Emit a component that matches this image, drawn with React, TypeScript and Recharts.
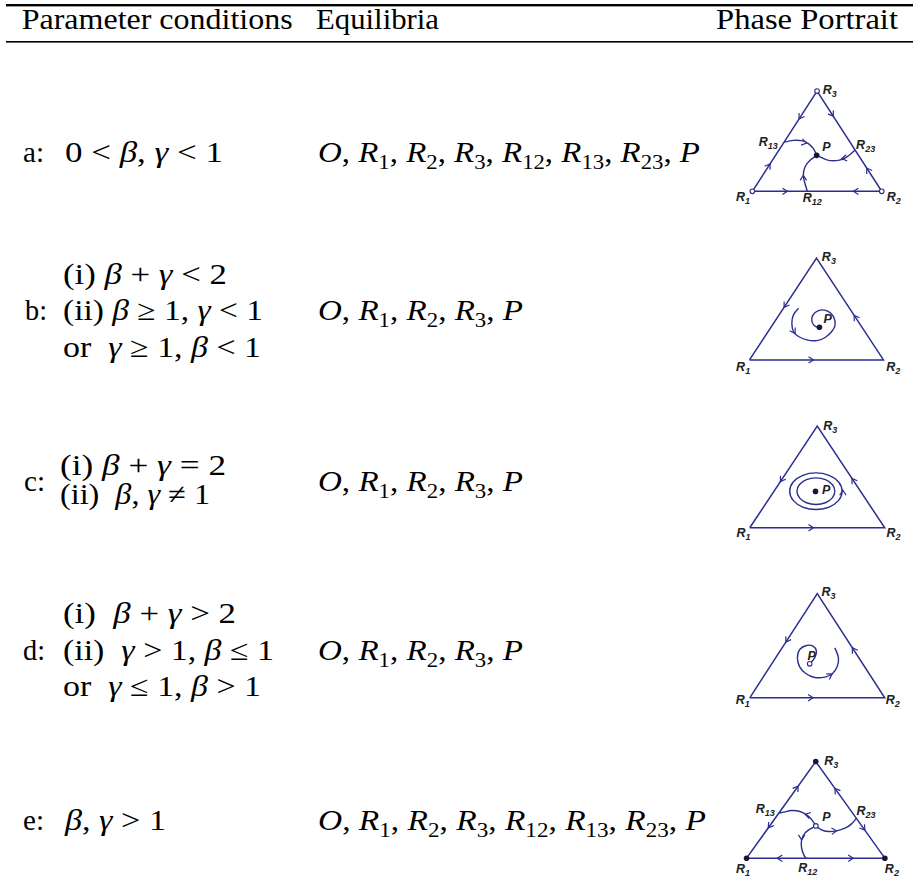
import React from 'react';
import { ComposedChart, Line, Scatter, XAxis, YAxis } from 'recharts';

// table text (*..* = italic, _{..} = subscript)
const headers = ['Parameter conditions', 'Equilibria', 'Phase Portrait'];
const rowLetters = ['a:', 'b:', 'c:', 'd:', 'e:'];
const conditionsA = ['0 < *β*, *γ* < 1'];
const conditionsB = ['(i) *β* + *γ* < 2', '(ii) *β* ≥ 1, *γ* < 1', 'or  *γ* ≥ 1, *β* < 1'];
const conditionsC = ['(i) *β* + *γ* = 2', '(ii)  *β*, *γ* ≠ 1'];
const conditionsD = ['(i)  *β* + *γ* > 2', '(ii)  *γ* > 1, *β* ≤ 1', 'or  *γ* ≤ 1, *β* > 1'];
const conditionsE = ['*β*, *γ* > 1'];
const equilibriaFull = '*O*, *R*_{1}, *R*_{2}, *R*_{3}, *R*_{12}, *R*_{13}, *R*_{23}, *P*';
const equilibriaShort = '*O*, *R*_{1}, *R*_{2}, *R*_{3}, *P*';

type Pt = { x: number; y: number };
type Arrow = { x: number; y: number; dx: number; dy: number };
type Lbl = { x: number; y: number; t: string; s?: string };

const triangle: Pt[] = [
  { x: 0, y: 0 },
  { x: 1, y: 0 },
  { x: 0.5, y: 1 },
  { x: 0, y: 0 },
];
const vertices: Pt[] = [
  { x: 0, y: 0 },
  { x: 1, y: 0 },
  { x: 0.5, y: 1 },
];

// row a
const aToR13: Pt[] = [
  { x: 0.245, y: 0.49 }, { x: 0.317, y: 0.508 }, { x: 0.381, y: 0.505 },
  { x: 0.433, y: 0.475 }, { x: 0.472, y: 0.425 }, { x: 0.497, y: 0.359 },
];
const aToR23: Pt[] = [
  { x: 0.794, y: 0.412 }, { x: 0.729, y: 0.341 }, { x: 0.665, y: 0.309 },
  { x: 0.588, y: 0.309 }, { x: 0.536, y: 0.335 }, { x: 0.497, y: 0.359 },
];
const aToR12: Pt[] = [
  { x: 0.425, y: 0 }, { x: 0.407, y: 0.076 }, { x: 0.394, y: 0.159 },
  { x: 0.407, y: 0.243 }, { x: 0.446, y: 0.309 }, { x: 0.497, y: 0.359 },
];
const aArrows: Arrow[] = [
  { x: 0.361, y: 0.722, dx: -0.5, dy: -1 },
  { x: 0.137, y: 0.274, dx: 0.5, dy: 1 },
  { x: 0.626, y: 0.748, dx: 0.5, dy: -1 },
  { x: 0.884, y: 0.232, dx: -0.5, dy: 1 },
  { x: 0.271, y: 0, dx: 1, dy: 0 },
  { x: 0.781, y: 0, dx: -1, dy: 0 },
  { x: 0.42, y: 0.482, dx: 0.94, dy: -0.25 },
  { x: 0.691, y: 0.326, dx: -1, dy: -0.2 },
  { x: 0.394, y: 0.159, dx: 0, dy: 1 },
];
const aStable: Pt[] = [{ x: 0.497, y: 0.359 }];
const aLabels: Lbl[] = [
  { x: 0.544, y: 0.973, t: 'R', s: '3' },
  { x: -0.126, y: -0.096, t: 'R', s: '1' },
  { x: 1.039, y: -0.096, t: 'R', s: '2' },
  { x: 0.049, y: 0.449, t: 'R', s: '13' },
  { x: 0.802, y: 0.425, t: 'R', s: '23' },
  { x: 0.389, y: -0.106, t: 'R', s: '12' },
  { x: 0.541, y: 0.402, t: 'P' },
];

// row b
const bSpiral: Pt[] = [
  { x: 0.366, y: 0.508 }, { x: 0.328, y: 0.443 }, { x: 0.316, y: 0.361 },
  { x: 0.328, y: 0.279 }, { x: 0.366, y: 0.23 }, { x: 0.428, y: 0.197 },
  { x: 0.502, y: 0.19 }, { x: 0.565, y: 0.22 }, { x: 0.614, y: 0.279 },
  { x: 0.639, y: 0.344 }, { x: 0.627, y: 0.426 }, { x: 0.59, y: 0.475 },
  { x: 0.54, y: 0.492 }, { x: 0.49, y: 0.466 }, { x: 0.465, y: 0.41 },
  { x: 0.478, y: 0.344 }, { x: 0.515, y: 0.318 },
];
const bArrows: Arrow[] = [
  { x: 0.258, y: 0.516, dx: -0.5, dy: -1 },
  { x: 0.781, y: 0.438, dx: -0.5, dy: 1 },
  { x: 0.478, y: 0, dx: 1, dy: 0 },
  { x: 0.34, y: 0.26, dx: 0.4, dy: -0.9 },
];
const bStable: Pt[] = [{ x: 0.522, y: 0.321 }];
const bLabels: Lbl[] = [
  { x: 0.54, y: 0.977, t: 'R', s: '3' },
  { x: -0.1, y: -0.105, t: 'R', s: '1' },
  { x: 1.02, y: -0.105, t: 'R', s: '2' },
  { x: 0.552, y: 0.361, t: 'P' },
];

// row c
const cOuter: Pt[] = [
  { x: 0.693, y: 0.36 }, { x: 0.666, y: 0.455 }, { x: 0.592, y: 0.524 },
  { x: 0.49, y: 0.549 }, { x: 0.388, y: 0.524 }, { x: 0.314, y: 0.455 },
  { x: 0.287, y: 0.36 }, { x: 0.314, y: 0.265 }, { x: 0.388, y: 0.196 },
  { x: 0.49, y: 0.171 }, { x: 0.592, y: 0.196 }, { x: 0.666, y: 0.265 },
];
const cInner: Pt[] = [
  { x: 0.637, y: 0.36 }, { x: 0.617, y: 0.429 }, { x: 0.564, y: 0.479 },
  { x: 0.49, y: 0.497 }, { x: 0.417, y: 0.479 }, { x: 0.363, y: 0.429 },
  { x: 0.343, y: 0.36 }, { x: 0.363, y: 0.292 }, { x: 0.417, y: 0.241 },
  { x: 0.49, y: 0.223 }, { x: 0.564, y: 0.241 }, { x: 0.617, y: 0.292 },
];
const cArrows: Arrow[] = [
  { x: 0.227, y: 0.454, dx: -0.5, dy: -1 },
  { x: 0.757, y: 0.486, dx: -0.5, dy: 1 },
  { x: 0.472, y: 0, dx: 1, dy: 0 },
  { x: 0.69, y: 0.37, dx: 0, dy: 1 },
];
const cStable: Pt[] = [{ x: 0.487, y: 0.358 }];
const cLabels: Lbl[] = [
  { x: 0.544, y: 0.965, t: 'R', s: '3' },
  { x: -0.099, y: -0.093, t: 'R', s: '1' },
  { x: 1.013, y: -0.093, t: 'R', s: '2' },
  { x: 0.536, y: 0.335, t: 'P' },
];

// row d
const dSpiral: Pt[] = [
  { x: 0.444, y: 0.326 }, { x: 0.481, y: 0.383 }, { x: 0.494, y: 0.447 },
  { x: 0.469, y: 0.495 }, { x: 0.42, y: 0.502 }, { x: 0.37, y: 0.463 },
  { x: 0.353, y: 0.383 }, { x: 0.37, y: 0.297 }, { x: 0.415, y: 0.233 },
  { x: 0.481, y: 0.195 }, { x: 0.556, y: 0.198 }, { x: 0.612, y: 0.23 },
  { x: 0.647, y: 0.297 }, { x: 0.657, y: 0.383 }, { x: 0.63, y: 0.479 },
];
const dArrows: Arrow[] = [
  { x: 0.267, y: 0.534, dx: -0.5, dy: -1 },
  { x: 0.76, y: 0.48, dx: -0.5, dy: 1 },
  { x: 0.469, y: 0, dx: 1, dy: 0 },
  { x: 0.61, y: 0.227, dx: 0.8, dy: 0.6 },
];
const dUnstable: Pt[] = [{ x: 0.444, y: 0.326 }];
const dLabels: Lbl[] = [
  { x: 0.531, y: 0.974, t: 'R', s: '3' },
  { x: -0.104, y: -0.06, t: 'R', s: '1' },
  { x: 1.007, y: -0.06, t: 'R', s: '2' },
  { x: 0.427, y: 0.361, t: 'P' },
];

// row e
const eToR13: Pt[] = [
  { x: 0.501, y: 0.334 }, { x: 0.472, y: 0.397 }, { x: 0.434, y: 0.448 },
  { x: 0.386, y: 0.483 }, { x: 0.325, y: 0.493 }, { x: 0.277, y: 0.479 },
  { x: 0.234, y: 0.468 },
];
const eToR23: Pt[] = [
  { x: 0.501, y: 0.334 }, { x: 0.542, y: 0.293 }, { x: 0.59, y: 0.276 },
  { x: 0.651, y: 0.283 }, { x: 0.711, y: 0.31 }, { x: 0.759, y: 0.355 },
  { x: 0.794, y: 0.412 },
];
const eToR12: Pt[] = [
  { x: 0.501, y: 0.334 }, { x: 0.458, y: 0.3 }, { x: 0.422, y: 0.259 },
  { x: 0.398, y: 0.19 }, { x: 0.398, y: 0.103 }, { x: 0.414, y: 0.034 },
  { x: 0.429, y: 0 },
];
const eArrows: Arrow[] = [
  { x: 0.373, y: 0.746, dx: 0.5, dy: 1 },
  { x: 0.157, y: 0.314, dx: -0.5, dy: -1 },
  { x: 0.639, y: 0.722, dx: -0.5, dy: 1 },
  { x: 0.855, y: 0.29, dx: 0.5, dy: -1 },
  { x: 0.222, y: 0, dx: -1, dy: 0 },
  { x: 0.771, y: 0, dx: 1, dy: 0 },
  { x: 0.424, y: 0.455, dx: -0.9, dy: 0.35 },
  { x: 0.651, y: 0.283, dx: 1, dy: 0.1 },
  { x: 0.398, y: 0.19, dx: 0, dy: -1 },
];
const eUnstable: Pt[] = [{ x: 0.501, y: 0.334 }];
const eLabels: Lbl[] = [
  { x: 0.561, y: 0.966, t: 'R', s: '3' },
  { x: -0.077, y: -0.155, t: 'R', s: '1' },
  { x: 1.0, y: -0.155, t: 'R', s: '2' },
  { x: 0.067, y: 0.472, t: 'R', s: '13' },
  { x: 0.795, y: 0.448, t: 'R', s: '23' },
  { x: 0.373, y: -0.148, t: 'R', s: '12' },
  { x: 0.547, y: 0.39, t: 'P' },
];

const INK = '#2b2e8e';
const DOT = '#15163a';
const X_DOM: [number, number] = [-0.25, 1.25];
const Y_DOM: [number, number] = [-0.2, 1.12];

type Box = { r1: number; r2: number; apex: number; base: number };

interface PortraitProps {
  box: Box;
  paths?: Pt[][];
  loops?: Pt[][];
  arrows: Arrow[];
  open?: Pt[];
  filled?: Pt[];
  labels: Lbl[];
}

const Portrait: React.FC<PortraitProps> = ({ box, paths = [], loops = [], arrows, open = [], filled = [], labels }) => {
  const triW = box.r2 - box.r1;
  const triH = box.base - box.apex;
  const w = triW * (X_DOM[1] - X_DOM[0]);
  const h = triH * (Y_DOM[1] - Y_DOM[0]);
  const left = box.r1 + X_DOM[0] * triW;
  const top = box.apex - (Y_DOM[1] - 1) * triH;

  const arrowShape = (p: any) => {
    const a = (Math.atan2(-p.payload.dy * triH, p.payload.dx * triW) * 180) / Math.PI;
    return (
      <path
        d="M -5 -3.2 L 0 0 L -5 3.2"
        transform={`translate(${p.cx},${p.cy}) rotate(${a})`}
        stroke={INK}
        strokeWidth={1.2}
        fill="none"
      />
    );
  };
  const openShape = (p: any) => <circle cx={p.cx} cy={p.cy} r={2.3} fill="#fff" stroke={INK} strokeWidth={1.1} />;
  const filledShape = (p: any) => <circle cx={p.cx} cy={p.cy} r={2.8} fill={DOT} />;
  const labelShape = (p: any) => (
    <text
      x={p.cx}
      y={p.cy}
      style={{ fontFamily: '"Liberation Sans", Arial, sans-serif', fontWeight: 'bold', fontStyle: 'italic', fontSize: 12.5 }}
      fill="#222"
    >
      {p.payload.t}
      {p.payload.s ? (
        <tspan style={{ fontSize: 9 }} dy={3}>
          {p.payload.s}
        </tspan>
      ) : null}
    </text>
  );

  return (
    <div style={{ position: 'absolute', left, top }}>
      <ComposedChart width={w} height={h} margin={{ top: 0, right: 0, bottom: 0, left: 0 }}>
        <XAxis type="number" dataKey="x" domain={X_DOM} hide />
        <YAxis type="number" dataKey="y" domain={Y_DOM} hide width={0} />
        <Line data={triangle} dataKey="y" type="linear" stroke={INK} strokeWidth={1.5} dot={false} activeDot={false} isAnimationActive={false} />
        {paths.map((d, i) => (
          <Line key={'p' + i} data={d} dataKey="y" type="natural" stroke={INK} strokeWidth={1.4} dot={false} activeDot={false} isAnimationActive={false} />
        ))}
        {loops.map((d, i) => (
          <Line key={'l' + i} data={d} dataKey="y" type="basisClosed" stroke={INK} strokeWidth={1.4} dot={false} activeDot={false} isAnimationActive={false} />
        ))}
        <Scatter data={arrows} shape={arrowShape} isAnimationActive={false} />
        {open.length > 0 && <Scatter data={open} shape={openShape} isAnimationActive={false} />}
        {filled.length > 0 && <Scatter data={filled} shape={filledShape} isAnimationActive={false} />}
        <Scatter data={labels} shape={labelShape} isAnimationActive={false} />
      </ComposedChart>
    </div>
  );
};

const renderMath = (s: string) => {
  const parts = s.split(/(\*[^*]+\*|_\{[^}]+\})/).filter(Boolean);
  let sub = false;
  return parts.map((p, i) => {
    if (p.startsWith('_{')) {
      sub = true;
      return (
        <tspan key={i} style={{ fontSize: 20 }} dy={7}>
          {p.slice(2, -1)}
        </tspan>
      );
    }
    const dy = sub ? -7 : undefined;
    sub = false;
    if (p.startsWith('*')) {
      return (
        <tspan key={i} style={{ fontStyle: 'italic' }} dy={dy}>
          {p.slice(1, -1)}
        </tspan>
      );
    }
    return (
      <tspan key={i} dy={dy}>
        {p}
      </tspan>
    );
  });
};

const T: React.FC<{ x: number; y: number; w: number; s: string }> = ({ x, y, w, s }) => (
  <text x={x} y={y} textLength={w} lengthAdjust="spacingAndGlyphs" style={{ whiteSpace: 'pre' }}>
    {renderMath(s)}
  </text>
);

export default function App() {
  return (
    <div style={{ position: 'absolute', left: 0, top: 0, width: 913, height: 879, background: '#fff', overflow: 'hidden' }}>
      <svg
        width={913}
        height={879}
        style={{ position: 'absolute', left: 0, top: 0, fontFamily: '"Liberation Serif", "Times New Roman", serif', fontSize: 29 }}
        fill="#000"
      >
        <rect x={6} y={4} width={907} height={2.4} fill="#000" />
        <rect x={6} y={41} width={907} height={1.6} fill="#000" />
        <T x={21.7} y={29} w={271} s={headers[0]} />
        <T x={316} y={29} w={123} s={headers[1]} />
        <T x={716} y={29} w={182} s={headers[2]} />

        <T x={23} y={162} w={21} s={rowLetters[0]} />
        <T x={65} y={162} w={158} s={conditionsA[0]} />
        <T x={318} y={162} w={382} s={equilibriaFull} />

        <T x={25} y={320} w={22} s={rowLetters[1]} />
        <T x={63} y={284} w={164} s={conditionsB[0]} />
        <T x={63} y={320} w={200} s={conditionsB[1]} />
        <T x={63} y={357} w={198} s={conditionsB[2]} />
        <T x={318} y={320} w={205} s={equilibriaShort} />

        <T x={24} y={491} w={21} s={rowLetters[2]} />
        <T x={60} y={475} w={166} s={conditionsC[0]} />
        <T x={60} y={504} w={150} s={conditionsC[1]} />
        <T x={318} y={491} w={205} s={equilibriaShort} />

        <T x={23} y={660} w={22} s={rowLetters[3]} />
        <T x={63} y={623} w={173} s={conditionsD[0]} />
        <T x={63} y={660} w={211} s={conditionsD[1]} />
        <T x={63} y={696} w={198} s={conditionsD[2]} />
        <T x={318} y={660} w={205} s={equilibriaShort} />

        <T x={23} y={830} w={21} s={rowLetters[4]} />
        <T x={65} y={830} w={101} s={conditionsE[0]} />
        <T x={318} y={830} w={388} s={equilibriaFull} />
      </svg>

      <Portrait box={{ r1: 752.3, r2: 881.7, apex: 90.7, base: 191 }} paths={[aToR13, aToR23, aToR12]} arrows={aArrows} open={vertices} filled={aStable} labels={aLabels} />
      <Portrait box={{ r1: 749.3, r2: 883.3, apex: 258.3, base: 360 }} paths={[bSpiral]} arrows={bArrows} filled={bStable} labels={bLabels} />
      <Portrait box={{ r1: 749.3, r2: 884.3, apex: 425.7, base: 527.3 }} loops={[cOuter, cInner]} arrows={cArrows} filled={cStable} labels={cLabels} />
      <Portrait box={{ r1: 750, r2: 885, apex: 594, base: 698.3 }} paths={[dSpiral]} arrows={dArrows} open={dUnstable} labels={dLabels} />
      <Portrait box={{ r1: 746.7, r2: 885, apex: 761.7, base: 858.3 }} paths={[eToR13, eToR23, eToR12]} arrows={eArrows} open={eUnstable} filled={vertices} labels={eLabels} />
    </div>
  );
}
